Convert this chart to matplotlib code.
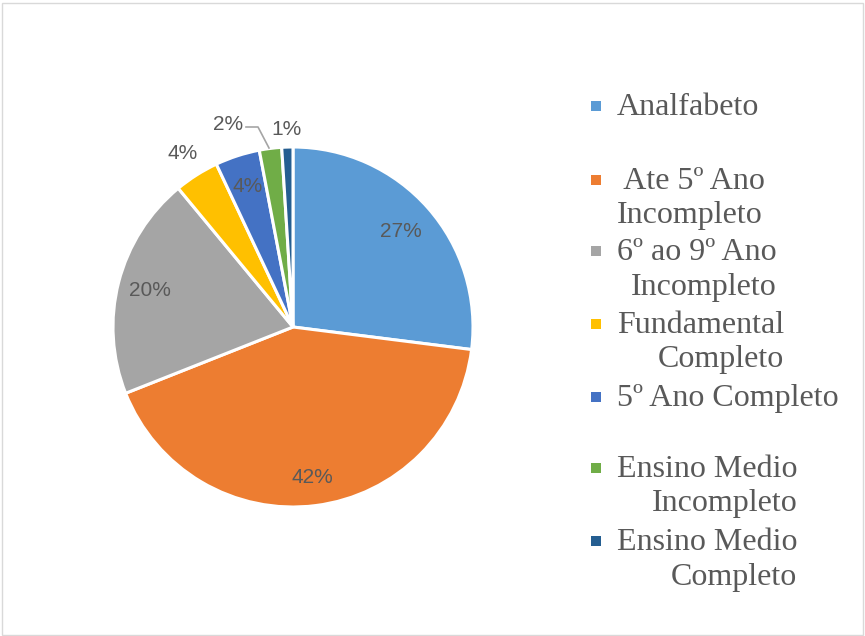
import numpy as np
import matplotlib.pyplot as plt
from matplotlib.patches import Rectangle

# Dados
categorias = ["Analfabeto", " Ate 5º Ano\nIncompleto", "6º ao 9º Ano\nIncompleto",
              "Fundamental\nCompleto", "5º Ano Completo", "Ensino Medio\nIncompleto",
              "Ensino Medio\nCompleto"]
valores = [27, 42, 20, 4, 4, 2, 1]
cores = ["#5B9BD5", "#ED7D31", "#A5A5A5", "#FFC000", "#4472C4", "#70AD47", "#255E91"]

W, H = 865, 636
cx, cy, R = 293, H - 327, 180

fig = plt.figure(figsize=(W / 100, H / 100), dpi=100)
ax = fig.add_axes([0, 0, 1, 1])

# Borda do gráfico
fig.patches.append(Rectangle((1.5 / W, 1.5 / H), 1 - 4 / W, 1 - 4 / H, transform=fig.transFigure,
                             fill=False, edgecolor="#D9D9D9", lw=1))

wedges, _ = ax.pie(valores, colors=cores, startangle=90, counterclock=False,
                   center=(cx, cy), radius=R, frame=True,
                   wedgeprops=dict(edgecolor="white", linewidth=2.2))
ax.set_xlim(0, W)
ax.set_ylim(0, H)
ax.set_aspect("equal")
ax.axis("off")

# Rótulos de porcentagem
dist = [0.8, 0.84, 0.82, 1.14, 0.82, 1.18, 1.1]
total = sum(valores)
for i, w in enumerate(wedges):
    ang = np.deg2rad((w.theta1 + w.theta2) / 2)
    d = dist[i] * R
    x, y = cx + d * np.cos(ang), cy + d * np.sin(ang)
    if i == 5:
        x, y = 228, H - 124
        ax.plot([246, 258, 269], [H - 127, H - 127, H - 148], color="#A5A5A5", lw=1.2)
    ax.text(x, y, f"{valores[i] / total * 100:.0f}%", ha="center", va="center",
            fontsize=15, color="#595959", family="Liberation Sans")

# Legenda
leg_y = [106, 180, 251, 324, 397, 468, 541]
alinh = ["left", "left", "right", "right", "left", "right", "right"]
for i, lab in enumerate(categorias):
    y = H - leg_y[i]
    ax.add_patch(Rectangle((591, y - 5), 10, 10, facecolor=cores[i], edgecolor="none"))
    ax.text(617, y + 13, lab, ha="left", va="top", multialignment=alinh[i],
            fontsize=23, color="#595959", family="Liberation Serif", linespacing=1.25)

fig.savefig("out.png", dpi=100)
